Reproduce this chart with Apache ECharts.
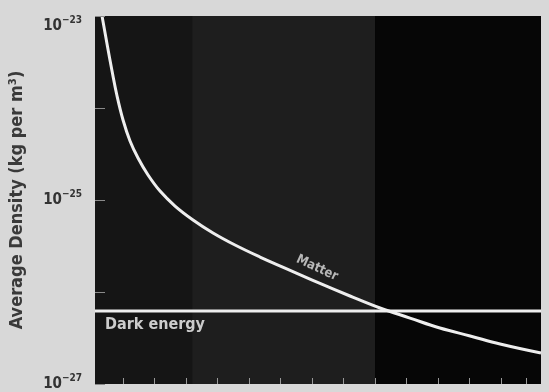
<!DOCTYPE html>
<html>
<head>
<meta charset="utf-8">
<script src="https://cdn.jsdelivr.net/npm/echarts@6.0.0/dist/echarts.min.js"></script>
<style>
html,body{margin:0;padding:0;background:#d8d8d8;}
#c{width:549px;height:392px;}
</style>
</head>
<body>
<div id="c"></div>
<script>
// time since Big Bang (billion years) and density (kg per m^3)
const matterTime = [0.333, 0.492, 0.651, 0.810, 1.0, 1.222, 1.476, 1.794, 2.175, 2.651, 3.222, 3.857, 4.556, 5.349, 6.143, 7.159, 8.206, 9.159, 10.11, 11.06, 12.02, 12.97, 14.27];
const matterDensity = [1.0e-23, 4.97e-24, 2.52e-24, 1.35e-24, 7.41e-25, 4.38e-25, 2.86e-25, 1.87e-25, 1.25e-25, 8.6e-26, 6.07e-26, 4.38e-26, 3.24e-26, 2.40e-26, 1.82e-26, 1.28e-26, 9.05e-27, 6.70e-27, 5.21e-27, 4.06e-27, 3.33e-27, 2.72e-27, 2.17e-27];
const darkTime = [0.11, 14.27];
const darkDensity = [6.2e-27, 6.2e-27];
const eraBands = [[0.11, 3.2], [3.2, 9.0], [9.0, 14.27]];
const xTicks = [1,2,3,4,5,6,7,8,9,10,11,12,13,13.8];
const yLabelExps = [-23, -25, -27];
const yMinExp = -27, yMaxExp = -23;

const chart = echarts.init(document.getElementById('c'));
// plot in units of 10^-27 kg/m^3 (avoids extremely small floats in the log scale)
const unit = Math.pow(10, yMinExp);
const toUnit = d => d / unit;
const zip = (a, b) => a.map((v, i) => [v, toUnit(b[i])]);
const bandColors = ['#151515', '#1e1e1e', '#060606'];
const F = 'DejaVu Sans Condensed';

chart.setOption({
  backgroundColor: '#d8d8d8',
  animation: false,
  grid: {left: 95, right: 8, top: 16, bottom: 8, show: true, backgroundColor: '#151515', borderWidth: 0},
  xAxis: {
    type: 'value', min: 0.11, max: 14.27, z: 10,
    axisLine: {show: false},
    splitLine: {show: false},
    axisLabel: {show: false},
    axisTick: {show: true, inside: true, length: 6, customValues: xTicks, lineStyle: {color: '#9a9a9a', width: 1}}
  },
  yAxis: {
    type: 'log', logBase: 10, min: 1, max: Math.pow(10, yMaxExp - yMinExp), z: 10,
    axisLine: {show: false},
    splitLine: {show: false},
    axisTick: {show: true, inside: true, length: 10, lineStyle: {color: '#8a8a8a', width: 1}},
    axisLabel: {
      margin: 13,
      formatter: function (v) {
        const e = Math.round(Math.log10(v)) + yMinExp;
        if (yLabelExps.indexOf(e) < 0) return '';
        const txt = '{b|10}{s|\u2212' + (-e) + '}';
        return e === yMaxExp ? '{gap| }\n' + txt : txt;
      },
      rich: {
        gap: {fontSize: 1, lineHeight: 20},
        b: {fontFamily: F, fontWeight: 'bold', fontSize: 15, lineHeight: 22, color: '#333'},
        s: {fontFamily: F, fontWeight: 'bold', fontSize: 10, lineHeight: 12, verticalAlign: 'top', color: '#333'}
      }
    },
    name: 'Average Density (kg per m\u00b3)',
    nameLocation: 'middle',
    nameGap: 69,
    nameTextStyle: {fontFamily: F, fontWeight: 'bold', fontSize: 18, color: '#3a3a3a'}
  },
  series: [
    {
      type: 'line', data: zip(darkTime, darkDensity), symbol: 'none', silent: true,
      lineStyle: {color: '#eeeeee', width: 3},
      z: 3,
      markArea: {
        silent: true,
        data: eraBands.map((b, i) => [{xAxis: b[0], itemStyle: {color: bandColors[i]}}, {xAxis: b[1]}])
      },
      markPoint: {
        symbol: 'circle', symbolSize: 0,
        data: [{coord: [0.43, toUnit(4.4e-27)], label: {show: true, formatter: 'Dark energy', position: 'inside', align: 'left', color: '#cccccc', fontFamily: F, fontWeight: 'bold', fontSize: 16}}]
      }
    },
    {
      type: 'line', data: zip(matterTime, matterDensity), symbol: 'none', smooth: 0.4, silent: true,
      lineStyle: {color: '#eeeeee', width: 3},
      z: 4,
      markPoint: {
        symbol: 'circle', symbolSize: 0,
        data: [{coord: [7.16, toUnit(1.82e-26)], label: {show: true, formatter: 'Matter', position: 'inside', rotate: -25, color: '#b8b8b8', fontFamily: F, fontWeight: 'bold', fontSize: 13}}]
      }
    }
  ]
});
</script>
</body>
</html>
